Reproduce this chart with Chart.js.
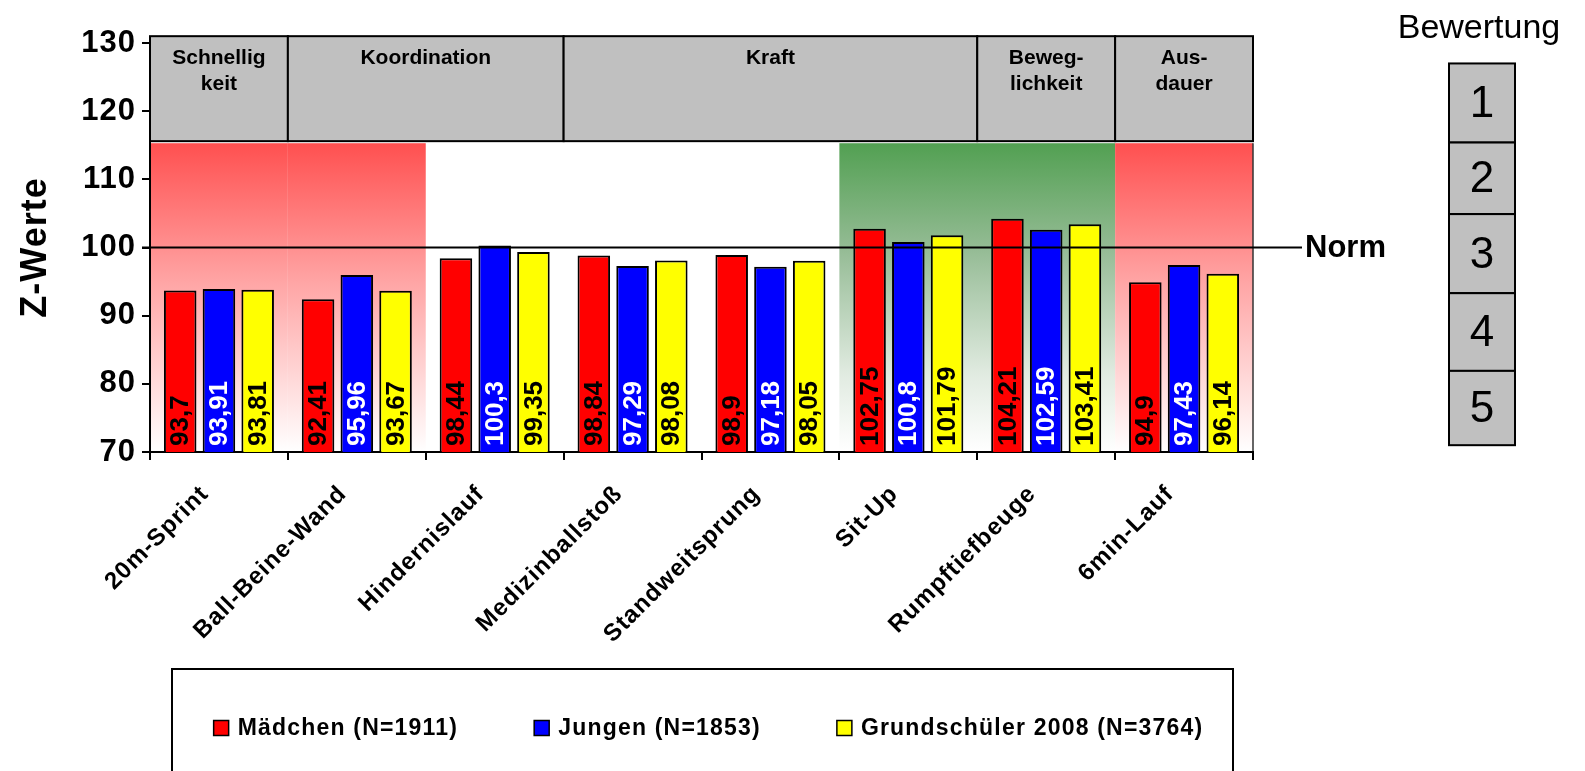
<!DOCTYPE html>
<html>
<head>
<meta charset="utf-8">
<script src="https://cdn.jsdelivr.net/npm/chart.js@4/dist/chart.umd.min.js"></script>
<style>
  html, body { margin: 0; padding: 0; background: #fff; }
  #wrap { width: 1585px; height: 771px; position: relative; }
</style>
</head>
<body>
<div id="wrap"><canvas id="chart"></canvas></div>
<script>
const FONT = "'Liberation Sans', Arial, sans-serif";

// data
const categories = ["20m-Sprint", "Ball-Beine-Wand", "Hindernislauf", "Medizinballstoß", "Standweitsprung", "Sit-Up", "Rumpftiefbeuge", "6min-Lauf"];
const maedchen = [93.7, 92.41, 98.44, 98.84, 98.9, 102.75, 104.21, 94.9];
const jungen = [93.91, 95.96, 100.3, 97.29, 97.18, 100.8, 102.59, 97.43];
const grundschueler = [93.81, 93.67, 99.35, 98.08, 98.05, 101.79, 103.41, 96.14];
const seriesNames = ["Mädchen (N=1911)", "Jungen (N=1853)", "Grundschüler 2008 (N=3764)"];
const yMin = 70, yMax = 130, yStep = 10;
const normValue = 100;

// header groups over the categories (first / last category index)
const groupNames = [["Schnellig", "keit"], ["Koordination"], ["Kraft"], ["Beweg-", "lichkeit"], ["Aus-", "dauer"]];
const groupFirst = [0, 1, 3, 6, 7];
const groupLast = [0, 2, 5, 6, 7];

// shaded zones (category ranges)
const zoneFirst = [0, 1, 5, 7];
const zoneLast = [0, 1, 6, 7];
const zoneKind = ["red", "red", "green", "red"];

// Bewertung scale
const ratings = ["1", "2", "3", "4", "5"];
const ratingEdges = [127, 115.4, 104.9, 93.3, 81.9, 71];

const barColors = ["#ff0000", "#0000ff", "#ffff00"];
const labelColors = ["#000", "#fff", "#000"];

const catEdge = (x, i) => {
  // left edge of category i
  const w = x.getPixelForValue(1) - x.getPixelForValue(0);
  return x.getPixelForValue(i) - w / 2;
};

// slightly wider text for the axis labels, like the original
const spacingPlugin = {
  id: "spacing",
  beforeUpdate(chart) { chart.ctx.letterSpacing = "1px"; },
  beforeDraw(chart) { chart.ctx.letterSpacing = "1px"; }
};

const zonesPlugin = {
  id: "zones",
  beforeDraw(chart) {
    const { ctx, chartArea, scales: { x, y } } = chart;
    const top = y.getPixelForValue(115.3);
    const bottom = chartArea.bottom;
    zoneFirst.forEach((f, k) => {
      const x0 = catEdge(x, f);
      const x1 = catEdge(x, zoneLast[k] + 1);
      const g = ctx.createLinearGradient(0, top, 0, bottom);
      if (zoneKind[k] === "red") {
        g.addColorStop(0, "rgb(255,80,80)");
        g.addColorStop(0.45, "rgb(255,165,165)");
        g.addColorStop(1, "rgb(255,255,255)");
      } else {
        g.addColorStop(0, "rgb(82,160,82)");
        g.addColorStop(0.35, "rgb(150,188,150)");
        g.addColorStop(0.75, "rgb(225,235,225)");
        g.addColorStop(1, "rgb(255,255,255)");
      }
      ctx.fillStyle = g;
      ctx.fillRect(x0, top, x1 - x0, bottom - top);
    });
    // thin right border of the plot
    ctx.save();
    ctx.strokeStyle = "#333";
    ctx.lineWidth = 1.5;
    ctx.beginPath();
    ctx.moveTo(chartArea.right, top);
    ctx.lineTo(chartArea.right, bottom);
    ctx.stroke();
    ctx.restore();
  }
};

const labelsPlugin = {
  id: "barLabels",
  afterDatasetsDraw(chart) {
    const { ctx, chartArea, scales: { y } } = chart;
    const base = y.getPixelForValue(yMin);
    ctx.save();
    ctx.letterSpacing = "0px";
    ctx.font = "bold 26px " + FONT;
    chart.data.datasets.forEach((ds, i) => {
      const meta = chart.getDatasetMeta(i);
      meta.data.forEach((bar, j) => {
        ctx.save();
        ctx.translate(bar.x, base - 6);
        ctx.rotate(-Math.PI / 2);
        ctx.fillStyle = labelColors[i];
        ctx.textAlign = "left";
        ctx.textBaseline = "middle";
        ctx.fillText(String(ds.data[j]).replace(".", ","), 0, 1);
        ctx.restore();
      });
    });
    // Norm line over the bars
    const yn = y.getPixelForValue(normValue);
    ctx.strokeStyle = "#000";
    ctx.lineWidth = 2;
    ctx.beginPath();
    ctx.moveTo(chartArea.left - 8, yn);
    ctx.lineTo(chartArea.right + 49, yn);
    ctx.stroke();
    ctx.fillStyle = "#000";
    ctx.font = "bold 31px " + FONT;
    ctx.textAlign = "left";
    ctx.textBaseline = "middle";
    ctx.fillText("Norm", chartArea.right + 52, yn + 1);
    ctx.restore();
  }
};

const decoPlugin = {
  id: "deco",
  afterDraw(chart) {
    const { ctx, chartArea, scales: { x, y } } = chart;
    ctx.save();
    ctx.letterSpacing = "0px";
    // header boxes
    const hTop = y.getPixelForValue(131);
    const hBottom = y.getPixelForValue(115.6);
    groupNames.forEach((lines, k) => {
      const x0 = catEdge(x, groupFirst[k]);
      const x1 = catEdge(x, groupLast[k] + 1);
      ctx.fillStyle = "#c0c0c0";
      ctx.fillRect(x0, hTop, x1 - x0, hBottom - hTop);
      ctx.strokeStyle = "#000";
      ctx.lineWidth = 2;
      ctx.strokeRect(x0, hTop, x1 - x0, hBottom - hTop);
      ctx.fillStyle = "#000";
      ctx.font = "bold 21px " + FONT;
      ctx.textAlign = "center";
      ctx.textBaseline = "middle";
      lines.forEach((t, n) => ctx.fillText(t, (x0 + x1) / 2, hTop + 22 + n * 26));
    });

    // Bewertung
    ctx.fillStyle = "#000";
    ctx.font = "34px " + FONT;
    ctx.textAlign = "center";
    ctx.textBaseline = "alphabetic";
    ctx.fillText("Bewertung", 1479, 38);
    const bx0 = 1449, bx1 = 1515;
    ratings.forEach((r, k) => {
      const t = y.getPixelForValue(ratingEdges[k]);
      const b = y.getPixelForValue(ratingEdges[k + 1]);
      ctx.fillStyle = "#c0c0c0";
      ctx.fillRect(bx0, t, bx1 - bx0, b - t);
      ctx.strokeStyle = "#000";
      ctx.lineWidth = 2;
      ctx.strokeRect(bx0, t, bx1 - bx0, b - t);
      ctx.fillStyle = "#000";
      ctx.font = "44px " + FONT;
      ctx.textBaseline = "middle";
      ctx.fillText(r, (bx0 + bx1) / 2, (t + b) / 2 + 2);
    });

    // legend with frame
    const cy = chartArea.bottom + 276;
    ctx.strokeStyle = "#000";
    ctx.lineWidth = 2;
    ctx.strokeRect(chartArea.left + 22, cy - 59, chartArea.right - chartArea.left - 42, 140);
    ctx.font = "bold 23px " + FONT;
    ctx.letterSpacing = "1.2px";
    const box = 15, boxGap = 9, gap = 76;
    const widths = seriesNames.map(n => box + boxGap + ctx.measureText(n).width);
    const total = widths.reduce((a, b) => a + b, 0) + gap * (widths.length - 1);
    let lx = (chartArea.left + chartArea.right) / 2 + 7 - total / 2;
    chart.data.datasets.forEach((ds, i) => {
      ctx.fillStyle = ds.backgroundColor;
      ctx.fillRect(lx, cy - box / 2, box, box);
      ctx.lineWidth = 1.5;
      ctx.strokeRect(lx, cy - box / 2, box, box);
      ctx.fillStyle = "#000";
      ctx.textAlign = "left";
      ctx.textBaseline = "middle";
      ctx.fillText(ds.label, lx + box + boxGap, cy + 1);
      lx += widths[i] + gap;
    });
    ctx.restore();
  }
};

const chart = new Chart(document.getElementById("chart"), {
  type: "bar",
  data: {
    labels: categories,
    datasets: [maedchen, jungen, grundschueler].map((d, i) => ({
      label: seriesNames[i],
      data: d,
      backgroundColor: barColors[i],
      borderColor: "#000",
      borderWidth: 2,
      borderSkipped: false,
      categoryPercentage: 0.843,
      barPercentage: 0.84
    }))
  },
  options: {
    responsive: true,
    maintainAspectRatio: false,
    animation: false,
    layout: { padding: { top: 43, left: 0, right: 332, bottom: 109 } },
    plugins: {
      tooltip: { enabled: false },
      legend: { display: false }
    },
    scales: {
      x: {
        grid: { display: true, drawOnChartArea: false, drawTicks: true, tickLength: 8, color: "#000", lineWidth: 2, offset: true },
        border: { display: true, color: "#000", width: 2 },
        ticks: {
          color: "#000",
          font: { family: FONT, size: 24, weight: "bold" },
          minRotation: 45,
          maxRotation: 45,
          autoSkip: false,
          padding: 20,
          labelOffset: -14
        },
        afterFit(scale) { scale.height = 210; }
      },
      y: {
        min: yMin,
        max: yMax,
        grid: { display: true, drawOnChartArea: false, drawTicks: true, tickLength: 8, color: "#000", lineWidth: 2 },
        border: { display: true, color: "#000", width: 2 },
        ticks: {
          stepSize: yStep,
          color: "#000",
          font: { family: FONT, size: 31, weight: "bold" },
          padding: 6
        },
        title: {
          display: true,
          text: "Z-Werte",
          color: "#000",
          font: { family: FONT, size: 36, weight: "bold" },
          padding: { top: 14, bottom: 0 }
        },
        afterFit(scale) { scale.width = 150; }
      }
    }
  },
  plugins: [spacingPlugin, zonesPlugin, labelsPlugin, decoPlugin]
});
</script>
</body>
</html>
